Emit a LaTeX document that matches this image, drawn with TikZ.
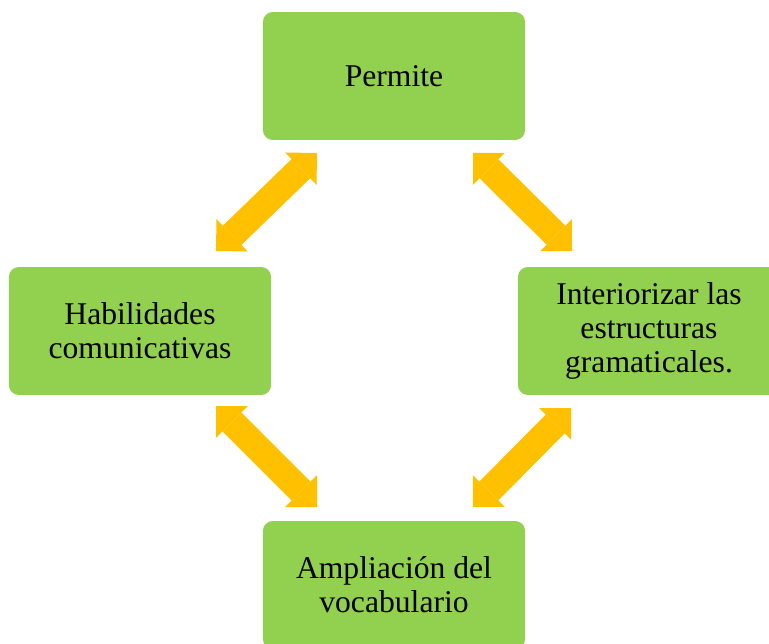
\documentclass[tikz,border=0pt]{standalone}
\usepackage{fontspec}
\setmainfont{Liberation Serif}
\usepackage{xcolor}
\usetikzlibrary{arrows.meta}
\definecolor{boxgreen}{HTML}{92D050}
\definecolor{arrowgold}{HTML}{FFC000}

\begin{document}
\begin{tikzpicture}[x=0.025cm, y=-0.025cm,
    box/.style={draw=none, fill=boxgreen, rounded corners=7pt, align=center,
      minimum width=186.4pt, minimum height=91pt, inner sep=0pt,
      font=\fontsize{22.5}{24}\selectfont},
    link/.style={draw=arrowgold, line width=19pt,
      >={Triangle[length=16pt,width=32pt,line width=0pt]}, <->}]
        \clip (0,0) rectangle (769,644);

        \node [box] (P) at (394,76) {Permite};
        \node [box] (H) at (140,331) {Habilidades\\comunicativas};
        \node [box] (I) at (649,331) {Interiorizar las\\estructuras\\gramaticales.};
        \node [box] (A) at (394,585) {Ampliación del\\vocabulario};

        % arrow ends
        \coordinate (hp) at (216,251);
        \coordinate (ph) at (317,153);
        \coordinate (pi) at (473,153);
        \coordinate (ip) at (572,251);
        \coordinate (ha) at (216,406);
        \coordinate (ah) at (317,507);
        \coordinate (ai) at (473,507);
        \coordinate (ia) at (571,408);

        \draw [link] (hp) -- (ph);
        \draw [link] (pi) -- (ip);
        \draw [link] (ha) -- (ah);
        \draw [link] (ai) -- (ia);

\end{tikzpicture}
\end{document}
